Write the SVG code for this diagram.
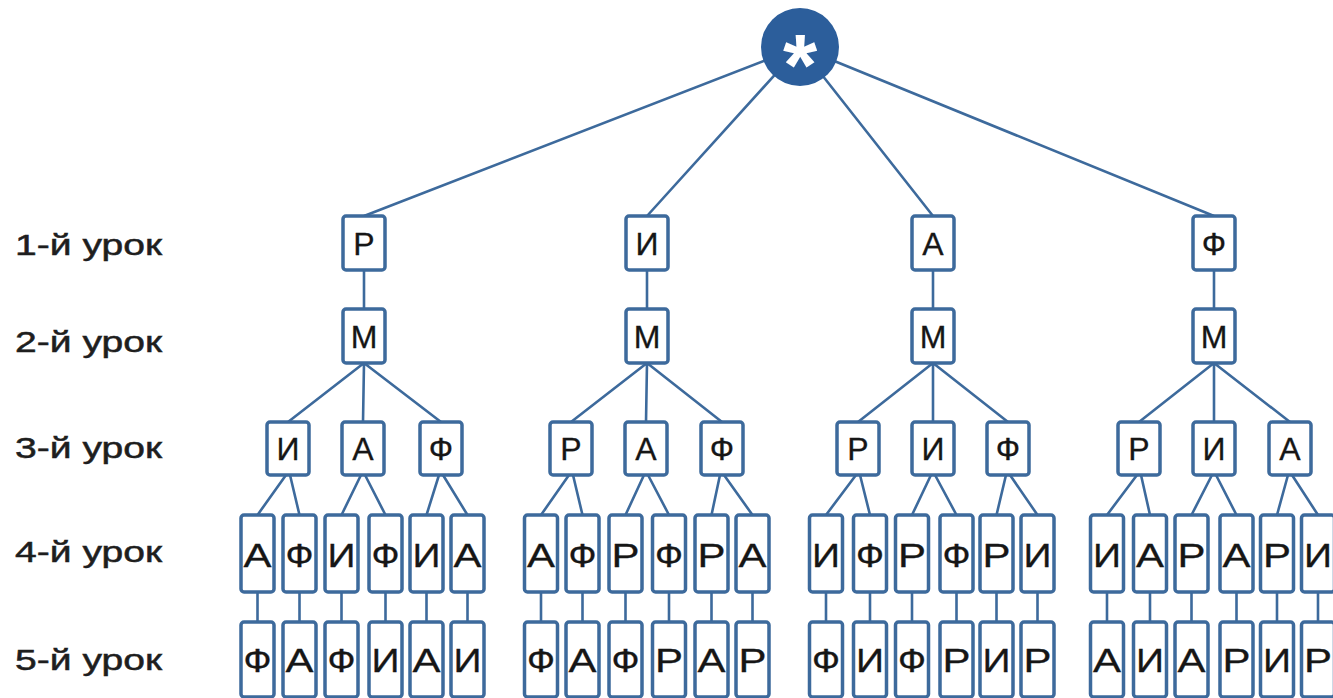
<svg xmlns="http://www.w3.org/2000/svg" width="1333" height="698" viewBox="0 0 1333 698">
<style>
.bx{fill:#fff;stroke:#3d6a9c;stroke-width:3.5}
.ln{stroke:#3d6a9c;stroke-width:2.6;fill:none}
.t{font-family:"Liberation Sans",Arial,sans-serif;font-size:32px;fill:#161616;text-anchor:middle;stroke:#161616;stroke-width:0.3}
.t2{font-family:"Liberation Sans",Arial,sans-serif;font-size:33px;fill:#161616;text-anchor:middle;stroke:#161616;stroke-width:0.3}
.lab{font-family:"Liberation Sans",Arial,sans-serif;font-size:29px;fill:#1e1e1e;stroke:#1e1e1e;stroke-width:0.5}
</style>
<rect width="1333" height="698" fill="#fff"/>
<g id="connectors">
<path class="ln" d="M800,47L364,216M800,47L647,216M800,47L933,216M800,47L1214,216"/>
<path class="ln" d="M364,270V309M647,270V309M933,270V309M1214,270V309"/>
<path class="ln" d="M364,363L288,422M364,363L363,422M364,363L441,422M647,363L571,422M647,363L646,422M647,363L722,422M933,363L858,422M933,363L933,422M933,363L1008,422M1214,363L1139,422M1214,363L1214,422M1214,363L1290,422"/>
<path class="ln" d="M286,475L257.5,515M290,475L299.5,515M361,475L341.5,515M365,475L385.5,515M439,475L426.5,515M443,475L467.5,515M569,475L541,515M573,475L582.5,515M644,475L625.5,515M648,475L669,515M720,475L711.5,515M724,475L752.5,515M856,475L826,515M860,475L870,515M931,475L912,515M935,475L956.5,515M1006,475L996.5,515M1010,475L1037.5,515M1137,475L1107,515M1141,475L1150,515M1212,475L1191.5,515M1216,475L1236.5,515M1288,475L1277,515M1292,475L1318,515"/>
<path class="ln" d="M257.5,592V622M299.5,592V622M341.5,592V622M385.5,592V622M426.5,592V622M467.5,592V622M541,592V622M582.5,592V622M625.5,592V622M669,592V622M711.5,592V622M752.5,592V622M826,592V622M870,592V622M912,592V622M956.5,592V622M996.5,592V622M1037.5,592V622M1107,592V622M1150,592V622M1191.5,592V622M1236.5,592V622M1277,592V622M1318,592V622"/>
</g>
<g id="root"><circle cx="800" cy="47" r="39" fill="#2c5e9b"/><text x="800" y="95" font-family="Liberation Sans,Arial,sans-serif" font-weight="bold" font-size="88" fill="#fff" text-anchor="middle">*</text></g>
<g id="labels">
<text class="lab" x="15" y="255" textLength="147" lengthAdjust="spacingAndGlyphs">1-й урок</text>
<text class="lab" x="15" y="352" textLength="147" lengthAdjust="spacingAndGlyphs">2-й урок</text>
<text class="lab" x="15" y="458" textLength="147" lengthAdjust="spacingAndGlyphs">3-й урок</text>
<text class="lab" x="15" y="562" textLength="147" lengthAdjust="spacingAndGlyphs">4-й урок</text>
<text class="lab" x="15" y="670" textLength="147" lengthAdjust="spacingAndGlyphs">5-й урок</text>
</g>
<g id="level1">
<g id="n1-R"><rect class="bx" x="343" y="216" width="42" height="54" rx="3"/><text class="t" x="364" y="254.5">Р</text></g>
<g id="n1-I"><rect class="bx" x="626" y="216" width="42" height="54" rx="3"/><text class="t" x="647" y="254.5">И</text></g>
<g id="n1-A"><rect class="bx" x="912" y="216" width="42" height="54" rx="3"/><text class="t" x="933" y="254.5">А</text></g>
<g id="n1-F"><rect class="bx" x="1193" y="216" width="42" height="54" rx="3"/><text class="t" x="1214" y="254.5">Ф</text></g>
</g>
<g id="level2">
<g id="n2-1"><rect class="bx" x="343" y="309" width="42" height="54" rx="3"/><text class="t" x="364" y="347.5">М</text></g>
<g id="n2-2"><rect class="bx" x="626" y="309" width="42" height="54" rx="3"/><text class="t" x="647" y="347.5">М</text></g>
<g id="n2-3"><rect class="bx" x="912" y="309" width="42" height="54" rx="3"/><text class="t" x="933" y="347.5">М</text></g>
<g id="n2-4"><rect class="bx" x="1193" y="309" width="42" height="54" rx="3"/><text class="t" x="1214" y="347.5">М</text></g>
</g>
<g id="level3">
<g id="n3-1a"><rect class="bx" x="267" y="422" width="42" height="53" rx="3"/><text class="t" x="288" y="460">И</text></g>
<g id="n3-1b"><rect class="bx" x="342" y="422" width="42" height="53" rx="3"/><text class="t" x="363" y="460">А</text></g>
<g id="n3-1c"><rect class="bx" x="420" y="422" width="42" height="53" rx="3"/><text class="t" x="441" y="460">Ф</text></g>
<g id="n3-2a"><rect class="bx" x="550" y="422" width="42" height="53" rx="3"/><text class="t" x="571" y="460">Р</text></g>
<g id="n3-2b"><rect class="bx" x="625" y="422" width="42" height="53" rx="3"/><text class="t" x="646" y="460">А</text></g>
<g id="n3-2c"><rect class="bx" x="701" y="422" width="42" height="53" rx="3"/><text class="t" x="722" y="460">Ф</text></g>
<g id="n3-3a"><rect class="bx" x="837" y="422" width="42" height="53" rx="3"/><text class="t" x="858" y="460">Р</text></g>
<g id="n3-3b"><rect class="bx" x="912" y="422" width="42" height="53" rx="3"/><text class="t" x="933" y="460">И</text></g>
<g id="n3-3c"><rect class="bx" x="987" y="422" width="42" height="53" rx="3"/><text class="t" x="1008" y="460">Ф</text></g>
<g id="n3-4a"><rect class="bx" x="1118" y="422" width="42" height="53" rx="3"/><text class="t" x="1139" y="460">Р</text></g>
<g id="n3-4b"><rect class="bx" x="1193" y="422" width="42" height="53" rx="3"/><text class="t" x="1214" y="460">И</text></g>
<g id="n3-4c"><rect class="bx" x="1269" y="422" width="42" height="53" rx="3"/><text class="t" x="1290" y="460">А</text></g>
</g>
<g id="level4">
<g id="n4-01"><rect class="bx" x="241" y="515" width="33" height="77" rx="3"/><text class="t2" x="257.5" y="567" textLength="28" lengthAdjust="spacingAndGlyphs">А</text></g>
<g id="n4-02"><rect class="bx" x="283" y="515" width="33" height="77" rx="3"/><text class="t2" x="299.5" y="567" textLength="28" lengthAdjust="spacingAndGlyphs">Ф</text></g>
<g id="n4-03"><rect class="bx" x="325" y="515" width="33" height="77" rx="3"/><text class="t2" x="341.5" y="567" textLength="28" lengthAdjust="spacingAndGlyphs">И</text></g>
<g id="n4-04"><rect class="bx" x="369" y="515" width="33" height="77" rx="3"/><text class="t2" x="385.5" y="567" textLength="28" lengthAdjust="spacingAndGlyphs">Ф</text></g>
<g id="n4-05"><rect class="bx" x="410" y="515" width="33" height="77" rx="3"/><text class="t2" x="426.5" y="567" textLength="28" lengthAdjust="spacingAndGlyphs">И</text></g>
<g id="n4-06"><rect class="bx" x="451" y="515" width="33" height="77" rx="3"/><text class="t2" x="467.5" y="567" textLength="28" lengthAdjust="spacingAndGlyphs">А</text></g>
<g id="n4-07"><rect class="bx" x="524.5" y="515" width="33" height="77" rx="3"/><text class="t2" x="541" y="567" textLength="28" lengthAdjust="spacingAndGlyphs">А</text></g>
<g id="n4-08"><rect class="bx" x="566" y="515" width="33" height="77" rx="3"/><text class="t2" x="582.5" y="567" textLength="28" lengthAdjust="spacingAndGlyphs">Ф</text></g>
<g id="n4-09"><rect class="bx" x="609" y="515" width="33" height="77" rx="3"/><text class="t2" x="625.5" y="567" textLength="28" lengthAdjust="spacingAndGlyphs">Р</text></g>
<g id="n4-10"><rect class="bx" x="652.5" y="515" width="33" height="77" rx="3"/><text class="t2" x="669" y="567" textLength="28" lengthAdjust="spacingAndGlyphs">Ф</text></g>
<g id="n4-11"><rect class="bx" x="695" y="515" width="33" height="77" rx="3"/><text class="t2" x="711.5" y="567" textLength="28" lengthAdjust="spacingAndGlyphs">Р</text></g>
<g id="n4-12"><rect class="bx" x="736" y="515" width="33" height="77" rx="3"/><text class="t2" x="752.5" y="567" textLength="28" lengthAdjust="spacingAndGlyphs">А</text></g>
<g id="n4-13"><rect class="bx" x="809.5" y="515" width="33" height="77" rx="3"/><text class="t2" x="826" y="567" textLength="28" lengthAdjust="spacingAndGlyphs">И</text></g>
<g id="n4-14"><rect class="bx" x="853.5" y="515" width="33" height="77" rx="3"/><text class="t2" x="870" y="567" textLength="28" lengthAdjust="spacingAndGlyphs">Ф</text></g>
<g id="n4-15"><rect class="bx" x="895.5" y="515" width="33" height="77" rx="3"/><text class="t2" x="912" y="567" textLength="28" lengthAdjust="spacingAndGlyphs">Р</text></g>
<g id="n4-16"><rect class="bx" x="940" y="515" width="33" height="77" rx="3"/><text class="t2" x="956.5" y="567" textLength="28" lengthAdjust="spacingAndGlyphs">Ф</text></g>
<g id="n4-17"><rect class="bx" x="980" y="515" width="33" height="77" rx="3"/><text class="t2" x="996.5" y="567" textLength="28" lengthAdjust="spacingAndGlyphs">Р</text></g>
<g id="n4-18"><rect class="bx" x="1021" y="515" width="33" height="77" rx="3"/><text class="t2" x="1037.5" y="567" textLength="28" lengthAdjust="spacingAndGlyphs">И</text></g>
<g id="n4-19"><rect class="bx" x="1090.5" y="515" width="33" height="77" rx="3"/><text class="t2" x="1107" y="567" textLength="28" lengthAdjust="spacingAndGlyphs">И</text></g>
<g id="n4-20"><rect class="bx" x="1133.5" y="515" width="33" height="77" rx="3"/><text class="t2" x="1150" y="567" textLength="28" lengthAdjust="spacingAndGlyphs">А</text></g>
<g id="n4-21"><rect class="bx" x="1175" y="515" width="33" height="77" rx="3"/><text class="t2" x="1191.5" y="567" textLength="28" lengthAdjust="spacingAndGlyphs">Р</text></g>
<g id="n4-22"><rect class="bx" x="1220" y="515" width="33" height="77" rx="3"/><text class="t2" x="1236.5" y="567" textLength="28" lengthAdjust="spacingAndGlyphs">А</text></g>
<g id="n4-23"><rect class="bx" x="1260.5" y="515" width="33" height="77" rx="3"/><text class="t2" x="1277" y="567" textLength="28" lengthAdjust="spacingAndGlyphs">Р</text></g>
<g id="n4-24"><rect class="bx" x="1301.5" y="515" width="33" height="77" rx="3"/><text class="t2" x="1318" y="567" textLength="28" lengthAdjust="spacingAndGlyphs">И</text></g>
</g>
<g id="level5">
<g id="n5-01"><rect class="bx" x="241" y="622" width="33" height="75" rx="3"/><text class="t2" x="257.5" y="672" textLength="28" lengthAdjust="spacingAndGlyphs">Ф</text></g>
<g id="n5-02"><rect class="bx" x="283" y="622" width="33" height="75" rx="3"/><text class="t2" x="299.5" y="672" textLength="28" lengthAdjust="spacingAndGlyphs">А</text></g>
<g id="n5-03"><rect class="bx" x="325" y="622" width="33" height="75" rx="3"/><text class="t2" x="341.5" y="672" textLength="28" lengthAdjust="spacingAndGlyphs">Ф</text></g>
<g id="n5-04"><rect class="bx" x="369" y="622" width="33" height="75" rx="3"/><text class="t2" x="385.5" y="672" textLength="28" lengthAdjust="spacingAndGlyphs">И</text></g>
<g id="n5-05"><rect class="bx" x="410" y="622" width="33" height="75" rx="3"/><text class="t2" x="426.5" y="672" textLength="28" lengthAdjust="spacingAndGlyphs">А</text></g>
<g id="n5-06"><rect class="bx" x="451" y="622" width="33" height="75" rx="3"/><text class="t2" x="467.5" y="672" textLength="28" lengthAdjust="spacingAndGlyphs">И</text></g>
<g id="n5-07"><rect class="bx" x="524.5" y="622" width="33" height="75" rx="3"/><text class="t2" x="541" y="672" textLength="28" lengthAdjust="spacingAndGlyphs">Ф</text></g>
<g id="n5-08"><rect class="bx" x="566" y="622" width="33" height="75" rx="3"/><text class="t2" x="582.5" y="672" textLength="28" lengthAdjust="spacingAndGlyphs">А</text></g>
<g id="n5-09"><rect class="bx" x="609" y="622" width="33" height="75" rx="3"/><text class="t2" x="625.5" y="672" textLength="28" lengthAdjust="spacingAndGlyphs">Ф</text></g>
<g id="n5-10"><rect class="bx" x="652.5" y="622" width="33" height="75" rx="3"/><text class="t2" x="669" y="672" textLength="28" lengthAdjust="spacingAndGlyphs">Р</text></g>
<g id="n5-11"><rect class="bx" x="695" y="622" width="33" height="75" rx="3"/><text class="t2" x="711.5" y="672" textLength="28" lengthAdjust="spacingAndGlyphs">А</text></g>
<g id="n5-12"><rect class="bx" x="736" y="622" width="33" height="75" rx="3"/><text class="t2" x="752.5" y="672" textLength="28" lengthAdjust="spacingAndGlyphs">Р</text></g>
<g id="n5-13"><rect class="bx" x="809.5" y="622" width="33" height="75" rx="3"/><text class="t2" x="826" y="672" textLength="28" lengthAdjust="spacingAndGlyphs">Ф</text></g>
<g id="n5-14"><rect class="bx" x="853.5" y="622" width="33" height="75" rx="3"/><text class="t2" x="870" y="672" textLength="28" lengthAdjust="spacingAndGlyphs">И</text></g>
<g id="n5-15"><rect class="bx" x="895.5" y="622" width="33" height="75" rx="3"/><text class="t2" x="912" y="672" textLength="28" lengthAdjust="spacingAndGlyphs">Ф</text></g>
<g id="n5-16"><rect class="bx" x="940" y="622" width="33" height="75" rx="3"/><text class="t2" x="956.5" y="672" textLength="28" lengthAdjust="spacingAndGlyphs">Р</text></g>
<g id="n5-17"><rect class="bx" x="980" y="622" width="33" height="75" rx="3"/><text class="t2" x="996.5" y="672" textLength="28" lengthAdjust="spacingAndGlyphs">И</text></g>
<g id="n5-18"><rect class="bx" x="1021" y="622" width="33" height="75" rx="3"/><text class="t2" x="1037.5" y="672" textLength="28" lengthAdjust="spacingAndGlyphs">Р</text></g>
<g id="n5-19"><rect class="bx" x="1090.5" y="622" width="33" height="75" rx="3"/><text class="t2" x="1107" y="672" textLength="28" lengthAdjust="spacingAndGlyphs">А</text></g>
<g id="n5-20"><rect class="bx" x="1133.5" y="622" width="33" height="75" rx="3"/><text class="t2" x="1150" y="672" textLength="28" lengthAdjust="spacingAndGlyphs">И</text></g>
<g id="n5-21"><rect class="bx" x="1175" y="622" width="33" height="75" rx="3"/><text class="t2" x="1191.5" y="672" textLength="28" lengthAdjust="spacingAndGlyphs">А</text></g>
<g id="n5-22"><rect class="bx" x="1220" y="622" width="33" height="75" rx="3"/><text class="t2" x="1236.5" y="672" textLength="28" lengthAdjust="spacingAndGlyphs">Р</text></g>
<g id="n5-23"><rect class="bx" x="1260.5" y="622" width="33" height="75" rx="3"/><text class="t2" x="1277" y="672" textLength="28" lengthAdjust="spacingAndGlyphs">И</text></g>
<g id="n5-24"><rect class="bx" x="1301.5" y="622" width="33" height="75" rx="3"/><text class="t2" x="1318" y="672" textLength="28" lengthAdjust="spacingAndGlyphs">Р</text></g>
</g>
</svg>
